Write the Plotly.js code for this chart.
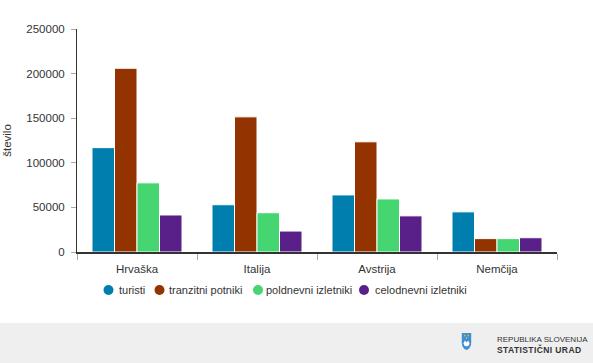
<!DOCTYPE html>
<html><head><meta charset="utf-8">
<script src="https://cdn.plot.ly/plotly-3.0.1.min.js"></script>
<style>
html,body{margin:0;padding:0;background:#fff;width:593px;height:363px;overflow:hidden;font-family:"Liberation Sans",Arial,sans-serif;}
#chart{width:593px;height:323px;}
#footer{position:absolute;left:0;top:323px;width:593px;height:40px;background:#efefef;overflow:visible;}
#logo{position:absolute;left:461px;top:9px;}
.fl{position:absolute;left:497px;line-height:10px;color:#333;white-space:nowrap;}
#l1{top:12px;font-size:8px;letter-spacing:0px;}
#l2{top:21.5px;font-weight:bold;font-size:8.5px;letter-spacing:0.4px;}
</style></head>
<body>
<div id="chart"></div>
<div id="footer">
<svg id="logo" width="11" height="19" viewBox="0 0 14 20" preserveAspectRatio="none">
<path d="M1 1 L13 1 L13 11 Q13 17 7 19 Q1 17 1 11 Z" fill="#3f8fd2"/>
<path d="M3 12 L5 9 L7 11 L9 9 L11 12 Q10 15 7 15 Q4 15 3 12 Z" fill="#fff"/>
<rect x="4" y="3" width="1.5" height="1.5" fill="#f5d000"/><rect x="8.5" y="3" width="1.5" height="1.5" fill="#f5d000"/><rect x="6.2" y="5.5" width="1.5" height="1.5" fill="#f5d000"/>
</svg>
<div class="fl" id="l1">REPUBLIKA SLOVENIJA</div>
<div class="fl" id="l2">STATISTIČNI URAD</div>
</div>
<script>
var categories = ["Hrvaška", "Italija", "Avstrija", "Nemčija"];
var seriesNames = ["turisti", "tranzitni potniki", "poldnevni izletniki", "celodnevni izletniki"];
var turisti = [117000, 53000, 64000, 45000];
var tranzitni = [206000, 151500, 123500, 15000];
var poldnevni = [77500, 44000, 59500, 15000];
var celodnevni = [41500, 23500, 40500, 16000];
var yTicks = [0, 50000, 100000, 150000, 200000, 250000];
var colors = ["#007fae", "#933400", "#45d571", "#582088"];
var values = [turisti, tranzitni, poldnevni, celodnevni];

// legend layout (pixel positions of the custom legend)
var legendCircleX = [108.5, 159.5, 258, 364];
var legendTextX = [116.5, 166.5, 264, 373];
var legendY = 290;
var plotL = 77, plotR = 557, plotT = 29, plotB = 252;

var traces = [];
values.forEach(function(v, i){
  traces.push({type:'bar', x:categories, y:v, name:seriesNames[i], showlegend:false,
    marker:{color:colors[i], line:{color:'#ffffff', width:1}}, hoverinfo:'y'});
});

function px2x(p){ return (p - plotL) / (plotR - plotL); }
function py2y(p){ return (plotB - p) / (plotB - plotT); }

var shapes = [], annotations = [];
seriesNames.forEach(function(n, i){
  shapes.push({type:'circle', xref:'paper', yref:'paper', xsizemode:'pixel', ysizemode:'pixel',
    xanchor:px2x(legendCircleX[i]), yanchor:py2y(legendY), x0:-5, x1:5, y0:-5, y1:5,
    fillcolor:colors[i], line:{width:0}});
  annotations.push({xref:'paper', yref:'paper', x:px2x(legendTextX[i]), y:py2y(legendY),
    xanchor:'left', yanchor:'middle', showarrow:false, text:n,
    font:{size:11, color:'#333333'}});
});

var layout = {
  width:593, height:323,
  margin:{l:plotL, r:593-plotR, t:plotT, b:323-plotB},
  paper_bgcolor:'#ffffff', plot_bgcolor:'#ffffff',
  font:{family:'"Liberation Sans", Arial, sans-serif', size:11, color:'#333333'},
  barmode:'group', bargap:0.25, bargroupgap:0,
  showlegend:false,
  shapes:shapes, annotations:annotations,
  xaxis:{type:'category', showline:true, linecolor:'#333333', linewidth:2,
    ticks:'outside', tickson:'boundaries', ticklen:6, tickcolor:'#aaaaaa', tickwidth:1,
    ticklabelstandoff:5,
    showgrid:false, zeroline:false, tickfont:{size:11.5, color:'#333333'}, fixedrange:true},
  yaxis:{range:[0,250000], tickvals:yTicks, ticktext:yTicks.map(String),
    showline:true, linecolor:'#333333', linewidth:1, ticks:'outside', ticklen:5, tickcolor:'#aaaaaa',
    ticklabelstandoff:4,
    showgrid:false, zeroline:false, tickfont:{size:11.5, color:'#333333'},
    title:{text:'število', font:{size:11.5, color:'#333333'}, standoff:12}, fixedrange:true}
};
Plotly.newPlot('chart', traces, layout, {displayModeBar:false, staticPlot:true});
</script>
</body></html>
